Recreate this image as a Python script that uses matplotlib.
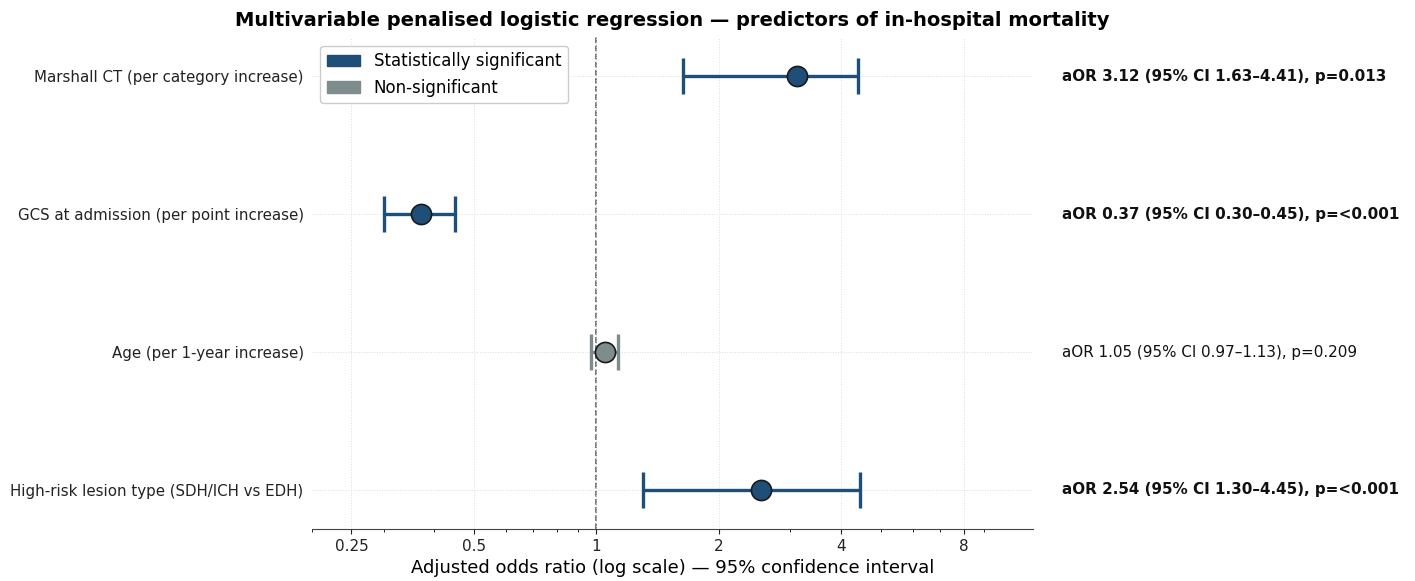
import matplotlib.pyplot as plt
import numpy as np
from matplotlib.patches import Patch
from matplotlib.ticker import FixedLocator, FixedFormatter

# model output
predictors = [
    'Marshall CT (per category increase)',
    'GCS at admission (per point increase)',
    'Age (per 1-year increase)',
    'High-risk lesion type (SDH/ICH vs EDH)',
]
aor = [3.12, 0.37, 1.05, 2.54]
ci_low = [1.63, 0.30, 0.97, 1.30]
ci_high = [4.41, 0.45, 1.13, 4.45]
pvals = ['0.013', '<0.001', '0.209', '<0.001']
significant = [True, True, False, True]

col_sig = '#1f4e79'
col_ns = '#7f8c8d'

fig = plt.figure(figsize=(14.15, 5.81), dpi=100)
ax = fig.add_axes([0.2205, 0.0895, 0.5095, 0.846])

n = len(predictors)
ypos = np.arange(n)[::-1]

for i in range(n):
    c = col_sig if significant[i] else col_ns
    # CI whiskers with caps, then the point estimate on top
    ax.errorbar(aor[i], ypos[i],
                xerr=[[aor[i] - ci_low[i]], [ci_high[i] - aor[i]]],
                fmt='none', ecolor=c, elinewidth=2.4, capsize=13, capthick=2.4, zorder=3)
    ax.plot(aor[i], ypos[i], 'o', markersize=14.5, markerfacecolor=c,
            markeredgecolor='#1a1a1a', markeredgewidth=1.2, zorder=4)
    txt = f'aOR {aor[i]:.2f} (95% CI {ci_low[i]:.2f}–{ci_high[i]:.2f}), p={pvals[i]}'
    ax.text(1.04, ypos[i], txt, transform=ax.get_yaxis_transform(),
            va='center', ha='left', fontsize=10.9,
            fontweight='bold' if significant[i] else 'normal', color='#111111')

ax.axvline(1, color='#555555', linestyle='--', linewidth=1.1, zorder=1)

ax.set_xscale('log')
ax.set_xlim(0.2, 11.85)
ax.set_ylim(-0.283, n - 1 + 0.283)
ticks = [0.25, 0.5, 1, 2, 4, 8]
ax.xaxis.set_major_locator(FixedLocator(ticks))
ax.xaxis.set_major_formatter(FixedFormatter(['0.25', '0.5', '1', '2', '4', '8']))
ax.tick_params(axis='x', labelsize=11, colors='#222222')
ax.tick_params(axis='y', length=0, labelsize=10.8, pad=6, colors='#222222')
ax.set_yticks(ypos)
ax.set_yticklabels(predictors)

ax.grid(True, which='major', linestyle=':', color='#dddddd', linewidth=0.7, zorder=0)
for s in ['top', 'right', 'left']:
    ax.spines[s].set_visible(False)
ax.spines['bottom'].set_color('#444444')

ax.set_xlabel('Adjusted odds ratio (log scale) — 95% confidence interval', fontsize=13, labelpad=4)
ax.set_title('Multivariable penalised logistic regression — predictors of in-hospital mortality',
             fontsize=14, fontweight='bold', pad=8)

handles = [Patch(color=col_sig, label='Statistically significant'),
           Patch(color=col_ns, label='Non-significant')]
ax.legend(handles=handles, loc='upper left', bbox_to_anchor=(0.0, 1.0), fontsize=12,
          frameon=True, framealpha=1, edgecolor='#cccccc')

fig.savefig('out.png', dpi=100)
